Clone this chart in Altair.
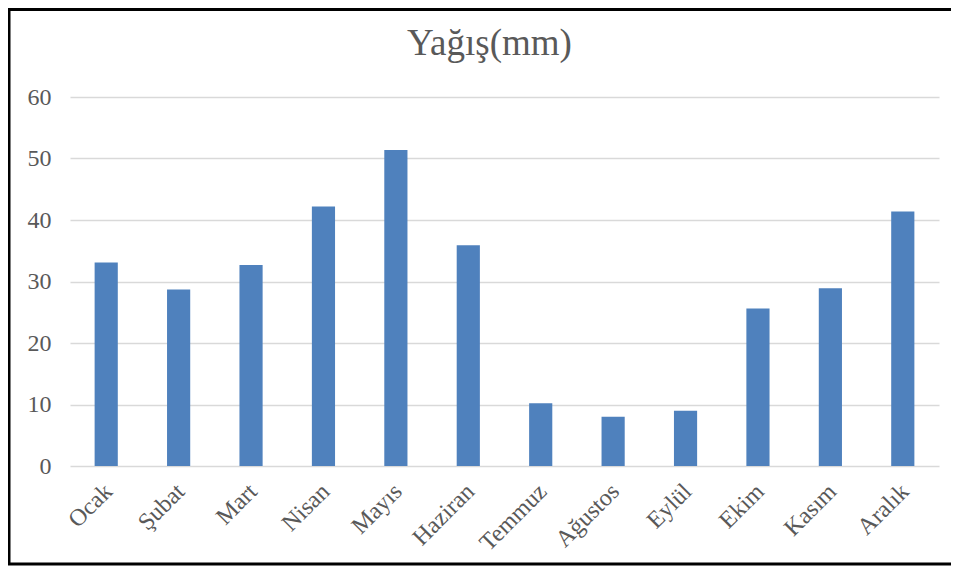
import altair as alt
import pandas as pd

months = ["Ocak", "Şubat", "Mart", "Nisan", "Mayıs", "Haziran",
          "Temmuz", "Ağustos", "Eylül", "Ekim", "Kasım", "Aralık"]
rain = [33.1, 28.7, 32.7, 42.2, 51.4, 35.9, 10.2, 8.0, 9.0, 25.6, 28.9, 41.4]
y_ticks = [0, 10, 20, 30, 40, 50, 60]

df = pd.DataFrame({"Ay": months, "mm": rain})

FONT = "Liberation Serif"
TXT = "#595959"

bars = alt.Chart(df).mark_bar(color="#4F81BD").encode(
    x=alt.X("Ay:N", sort=months,
            scale=alt.Scale(paddingInner=0.68, paddingOuter=0.34),
            axis=alt.Axis(title=None, ticks=False, domain=False, grid=False,
                          labelAngle=-45, labelAlign="right", labelBaseline="top",
                          labelOffset=-6, labelPadding=13,
                          labelFont=FONT, labelFontSize=24, labelColor=TXT)),
    y=alt.Y("mm:Q", scale=alt.Scale(domain=[0, 60]),
            axis=alt.Axis(title=None, values=y_ticks, ticks=False, domain=False,
                          grid=True, gridColor="#D9D9D9", gridWidth=1.5,
                          labelFont=FONT, labelFontSize=24, labelColor=TXT,
                          labelPadding=19)),
)

one = alt.Data(values=[{"k": 1}])
left = alt.Chart(one).mark_rule(color="black", strokeWidth=3).encode(
    x=alt.value(-61), y=alt.value(-88), y2=alt.value(467))
top = alt.Chart(one).mark_rule(color="black", strokeWidth=3).encode(
    x=alt.value(-62), x2=alt.value(900), y=alt.value(-87.5))
bottom = alt.Chart(one).mark_rule(color="black", strokeWidth=3).encode(
    x=alt.value(-62), x2=alt.value(900), y=alt.value(467))

chart = alt.layer(bars, left, top, bottom).properties(
    width=869, height=369,
    padding={"left": 62, "top": 89, "right": 12, "bottom": 100},
    autosize=alt.AutoSizeParams(type="none"),
    title=alt.TitleParams("Yağış(mm)", font=FONT, fontSize=37, fontWeight="normal",
                          color=TXT, anchor="middle", dx=-15, offset=-92,
                          baseline="bottom"),
).configure_view(stroke=None)

chart.save("out.html", embed_options={"renderer": "svg", "actions": False})
